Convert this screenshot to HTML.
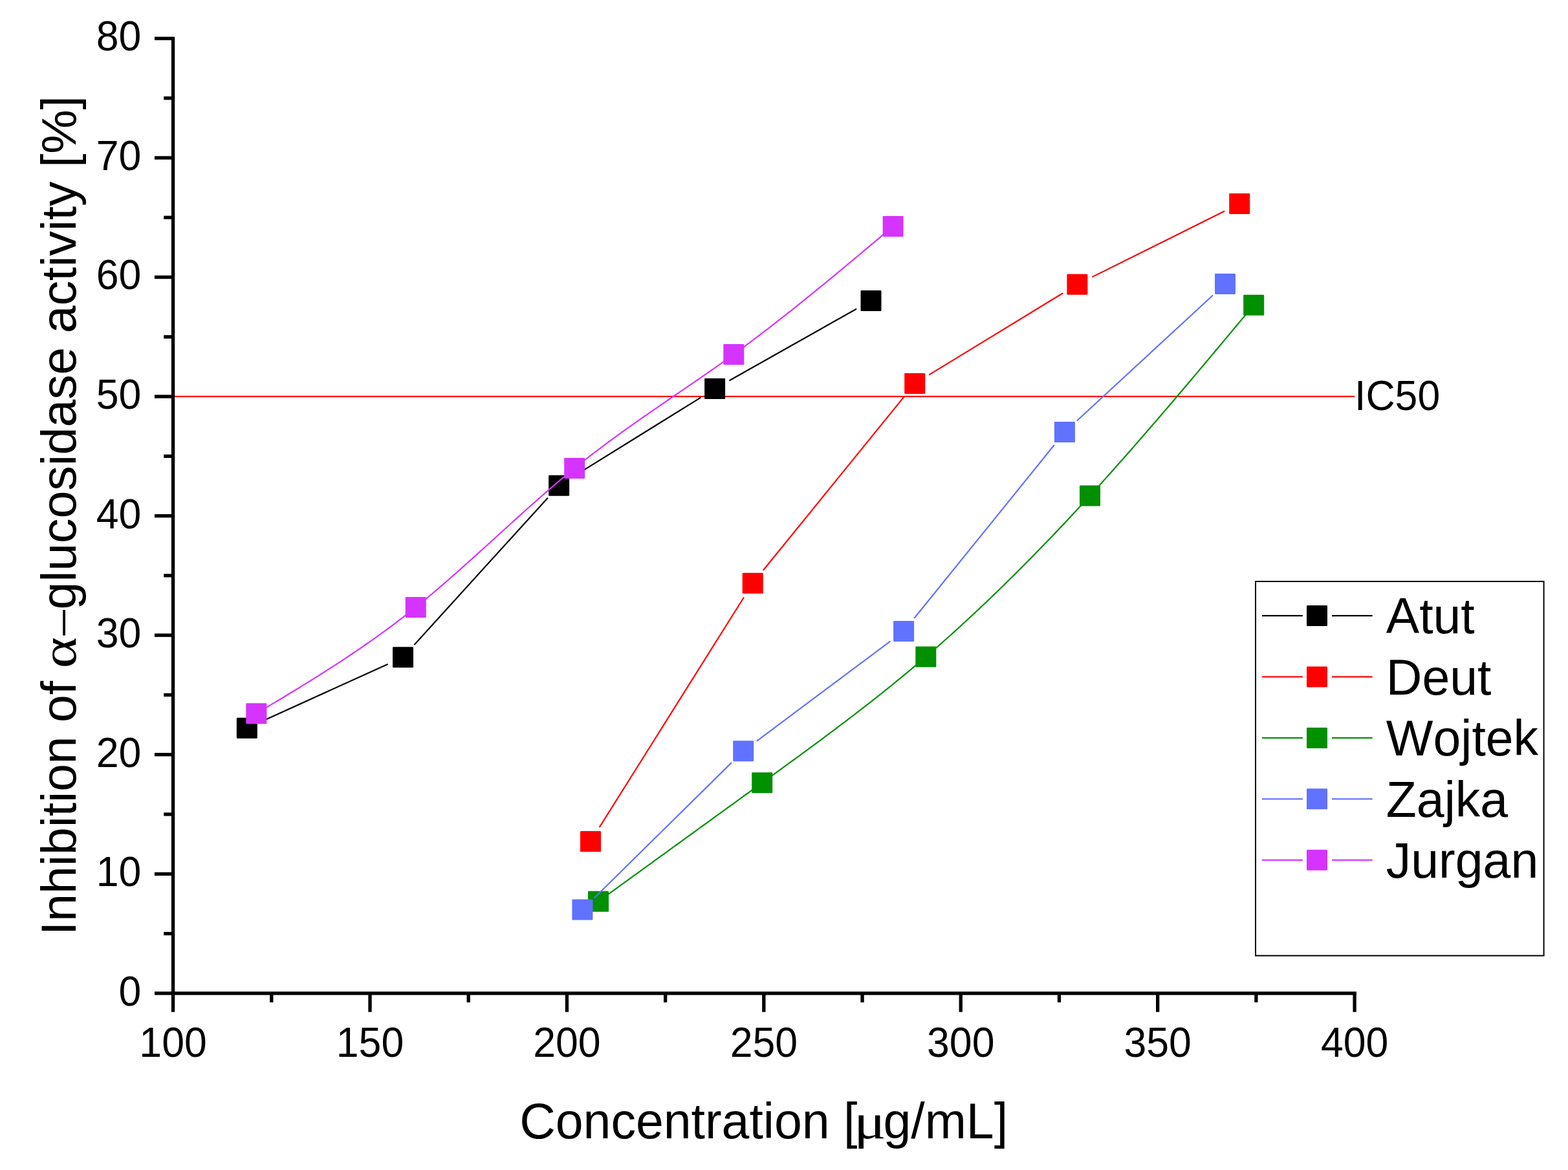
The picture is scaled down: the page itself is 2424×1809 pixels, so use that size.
<!DOCTYPE html>
<html><head><meta charset="utf-8"><title>Inhibition of alpha-glucosidase activity</title>
<style>html,body{margin:0;padding:0;background:#fff;}body{width:2424px;height:1809px;overflow:hidden;}svg{display:block;}</style>
</head><body>
<svg width="2424" height="1809" viewBox="0 0 2424 1809">
<rect x="0" y="0" width="2424" height="1809" fill="#fff"/>
<rect x="270" y="611.9" width="1824.2" height="2.2" fill="#ff0000"/>
<path d="M406.02 1114.7 L598.78 1027.2 M640.88 996.51 L846.22 770.39 M886.7 736.67 L1082.5 615.13 M1128.27 588.03 L1323.33 477.97" fill="none" stroke="#000000" stroke-width="2.2" stroke-linecap="round"/>
<rect x="365.8" y="1109.7" width="32" height="32" rx="1.2" fill="#000000"/>
<rect x="607" y="1000.2" width="32" height="32" rx="1.2" fill="#000000"/>
<rect x="848.1" y="734.7" width="32" height="32" rx="1.2" fill="#000000"/>
<rect x="1089.1" y="585.1" width="32" height="32" rx="1.2" fill="#000000"/>
<rect x="1330.5" y="448.9" width="32" height="32" rx="1.2" fill="#000000"/>
<path d="M927.15 1278.37 L1149.55 924.23 M1180.46 881.04 L1397.44 613.66 M1436.91 579.14 L1642.69 453.56 M1689.22 427.86 L1892.38 326.84" fill="none" stroke="#ff0000" stroke-width="2.2" stroke-linecap="round"/>
<rect x="897" y="1284.9" width="32" height="32" rx="1.2" fill="#ff0000"/>
<rect x="1147.7" y="885.7" width="32" height="32" rx="1.2" fill="#ff0000"/>
<rect x="1398.2" y="577" width="32" height="32" rx="1.2" fill="#ff0000"/>
<rect x="1649.4" y="423.7" width="32" height="32" rx="1.2" fill="#ff0000"/>
<rect x="1900.2" y="299" width="32" height="32" rx="1.2" fill="#ff0000"/>
<path d="M925 1393.8 L930.09 1390.11 L935.18 1386.42 L940.27 1382.73 L945.37 1379.04 L950.46 1375.36 L955.55 1371.67 L960.64 1367.98 L965.73 1364.29 L970.82 1360.6 L975.91 1356.91 L981.01 1353.22 L986.1 1349.53 L991.19 1345.84 L996.28 1342.15 L1001.37 1338.46 L1006.46 1334.78 L1011.55 1331.09 L1016.65 1327.4 L1021.74 1323.71 L1026.83 1320.02 L1031.92 1316.33 L1037.01 1312.64 L1042.1 1308.95 L1047.19 1305.26 L1052.29 1301.57 L1057.38 1297.88 L1062.47 1294.19 L1067.56 1290.5 L1072.65 1286.81 L1077.74 1283.12 L1082.84 1279.43 L1087.93 1275.74 L1093.02 1272.05 L1098.11 1268.36 L1103.2 1264.67 L1108.29 1260.98 L1113.38 1257.29 L1118.48 1253.6 L1123.57 1249.91 L1128.66 1246.22 L1133.75 1242.53 L1138.84 1238.84 L1143.93 1235.14 L1149.02 1231.45 L1154.12 1227.76 L1159.21 1224.07 L1164.3 1220.38 L1169.39 1216.69 L1174.48 1213 L1179.57 1209.3 L1184.66 1205.61 L1189.76 1201.92 L1194.85 1198.23 L1199.94 1194.53 L1205.03 1190.83 L1210.12 1187.13 L1215.21 1183.42 L1220.3 1179.72 L1225.4 1176 L1230.49 1172.28 L1235.58 1168.56 L1240.67 1164.83 L1245.76 1161.09 L1250.85 1157.34 L1255.94 1153.59 L1261.04 1149.83 L1266.13 1146.06 L1271.22 1142.28 L1276.31 1138.49 L1281.4 1134.69 L1286.49 1130.88 L1291.58 1127.06 L1296.68 1123.22 L1301.77 1119.37 L1306.86 1115.51 L1311.95 1111.63 L1317.04 1107.75 L1322.13 1103.84 L1327.23 1099.92 L1332.32 1095.98 L1337.41 1092.03 L1342.5 1088.06 L1347.59 1084.07 L1352.68 1080.07 L1357.77 1076.04 L1362.87 1072 L1367.96 1067.94 L1373.05 1063.85 L1378.14 1059.75 L1383.23 1055.62 L1388.32 1051.47 L1393.41 1047.3 L1398.51 1043.11 L1403.6 1038.89 L1408.69 1034.65 L1413.78 1030.38 L1418.87 1026.09 L1423.96 1021.77 L1429.05 1017.42 L1434.15 1013.05 L1439.24 1008.66 L1444.33 1004.23 L1449.42 999.78 L1454.51 995.3 L1459.6 990.79 L1464.69 986.26 L1469.79 981.7 L1474.88 977.12 L1479.97 972.51 L1485.06 967.87 L1490.15 963.21 L1495.24 958.52 L1500.33 953.81 L1505.43 949.07 L1510.52 944.3 L1515.61 939.51 L1520.7 934.7 L1525.79 929.85 L1530.88 924.99 L1535.97 920.1 L1541.07 915.18 L1546.16 910.24 L1551.25 905.28 L1556.34 900.29 L1561.43 895.28 L1566.52 890.24 L1571.62 885.18 L1576.71 880.09 L1581.8 874.99 L1586.89 869.85 L1591.98 864.7 L1597.07 859.52 L1602.16 854.32 L1607.26 849.09 L1612.35 843.84 L1617.44 838.57 L1622.53 833.28 L1627.62 827.96 L1632.71 822.62 L1637.8 817.26 L1642.9 811.87 L1647.99 806.46 L1653.08 801.03 L1658.17 795.58 L1663.26 790.11 L1668.35 784.62 L1673.44 779.1 L1678.54 773.56 L1683.63 768 L1688.72 762.42 L1693.81 756.82 L1698.9 751.2 L1703.99 745.56 L1709.08 739.89 L1714.18 734.21 L1719.27 728.51 L1724.36 722.8 L1729.45 717.06 L1734.54 711.31 L1739.63 705.54 L1744.72 699.75 L1749.82 693.94 L1754.91 688.13 L1760 682.29 L1765.09 676.44 L1770.18 670.58 L1775.27 664.7 L1780.36 658.81 L1785.46 652.9 L1790.55 646.98 L1795.64 641.05 L1800.73 635.11 L1805.82 629.16 L1810.91 623.19 L1816.01 617.21 L1821.1 611.23 L1826.19 605.23 L1831.28 599.23 L1836.37 593.21 L1841.46 587.19 L1846.55 581.16 L1851.65 575.12 L1856.74 569.07 L1861.83 563.02 L1866.92 556.96 L1872.01 550.9 L1877.1 544.83 L1882.19 538.75 L1887.29 532.67 L1892.38 526.59 L1897.47 520.5 L1902.56 514.4 L1907.65 508.31 L1912.74 502.21 L1917.83 496.11 L1922.93 490.01 L1928.02 483.91 L1933.11 477.8 L1938.2 471.7" fill="none" stroke="#009000" stroke-width="2.2" stroke-linejoin="round"/>
<rect x="909" y="1377.8" width="32" height="32" rx="1.2" fill="#009000"/>
<rect x="1162.2" y="1194.3" width="32" height="32" rx="1.2" fill="#009000"/>
<rect x="1415.3" y="999.5" width="32" height="32" rx="1.2" fill="#009000"/>
<rect x="1669" y="750.5" width="32" height="32" rx="1.2" fill="#009000"/>
<rect x="1922.2" y="455.7" width="32" height="32" rx="1.2" fill="#009000"/>
<path d="M919.35 1387.73 L1130.25 1179.87 M1170.51 1145.28 L1375.79 991.92 M1413.82 955.31 L1629.18 688.79 M1665.44 650.05 L1874.46 457.05" fill="none" stroke="#6172ff" stroke-width="2.2" stroke-linecap="round"/>
<rect x="884.4" y="1390.4" width="32" height="32" rx="1.2" fill="#6172ff"/>
<rect x="1133.2" y="1145.2" width="32" height="32" rx="1.2" fill="#6172ff"/>
<rect x="1381.1" y="960" width="32" height="32" rx="1.2" fill="#6172ff"/>
<rect x="1629.9" y="652.1" width="32" height="32" rx="1.2" fill="#6172ff"/>
<rect x="1878" y="423" width="32" height="32" rx="1.2" fill="#6172ff"/>
<path d="M396.3 1103.2 L401.25 1100.24 L406.19 1097.28 L411.14 1094.32 L416.08 1091.36 L421.03 1088.4 L425.98 1085.43 L430.92 1082.45 L435.87 1079.47 L440.82 1076.49 L445.76 1073.49 L450.71 1070.49 L455.65 1067.48 L460.6 1064.46 L465.55 1061.42 L470.49 1058.38 L475.44 1055.32 L480.39 1052.25 L485.33 1049.17 L490.28 1046.07 L495.22 1042.96 L500.17 1039.83 L505.12 1036.68 L510.06 1033.51 L515.01 1030.33 L519.96 1027.12 L524.9 1023.9 L529.85 1020.65 L534.79 1017.38 L539.74 1014.09 L544.69 1010.78 L549.63 1007.43 L554.58 1004.07 L559.53 1000.68 L564.47 997.26 L569.42 993.81 L574.36 990.33 L579.31 986.82 L584.26 983.29 L589.2 979.72 L594.15 976.12 L599.1 972.49 L604.04 968.82 L608.99 965.12 L613.93 961.38 L618.88 957.61 L623.83 953.8 L628.77 949.95 L633.72 946.06 L638.67 942.13 L643.61 938.17 L648.56 934.16 L653.5 930.11 L658.45 926.03 L663.4 921.91 L668.34 917.75 L673.29 913.56 L678.24 909.35 L683.18 905.1 L688.13 900.82 L693.07 896.52 L698.02 892.2 L702.97 887.85 L707.91 883.48 L712.86 879.09 L717.81 874.68 L722.75 870.26 L727.7 865.82 L732.64 861.37 L737.59 856.9 L742.54 852.43 L747.48 847.95 L752.43 843.46 L757.37 838.97 L762.32 834.48 L767.27 829.98 L772.21 825.48 L777.16 820.99 L782.11 816.5 L787.05 812.01 L792 807.53 L796.94 803.06 L801.89 798.59 L806.84 794.14 L811.78 789.7 L816.73 785.28 L821.68 780.87 L826.62 776.48 L831.57 772.11 L836.51 767.77 L841.46 763.44 L846.41 759.14 L851.35 754.86 L856.3 750.62 L861.25 746.4 L866.19 742.21 L871.14 738.06 L876.08 733.94 L881.03 729.85 L885.98 725.81 L890.92 721.8 L895.87 717.83 L900.82 713.9 L905.76 710.01 L910.71 706.15 L915.65 702.32 L920.6 698.53 L925.55 694.77 L930.49 691.04 L935.44 687.34 L940.39 683.67 L945.33 680.02 L950.28 676.4 L955.22 672.81 L960.17 669.23 L965.12 665.68 L970.06 662.15 L975.01 658.63 L979.96 655.14 L984.9 651.66 L989.85 648.19 L994.79 644.74 L999.74 641.31 L1004.69 637.88 L1009.63 634.46 L1014.58 631.06 L1019.53 627.66 L1024.47 624.26 L1029.42 620.87 L1034.36 617.49 L1039.31 614.11 L1044.26 610.73 L1049.2 607.34 L1054.15 603.96 L1059.09 600.58 L1064.04 597.19 L1068.99 593.79 L1073.93 590.39 L1078.88 586.99 L1083.83 583.57 L1088.77 580.14 L1093.72 576.7 L1098.66 573.25 L1103.61 569.79 L1108.56 566.31 L1113.5 562.81 L1118.45 559.3 L1123.4 555.76 L1128.34 552.21 L1133.29 548.63 L1138.23 545.04 L1143.18 541.42 L1148.13 537.77 L1153.07 534.11 L1158.02 530.42 L1162.97 526.71 L1167.91 522.99 L1172.86 519.24 L1177.8 515.47 L1182.75 511.69 L1187.7 507.88 L1192.64 504.06 L1197.59 500.22 L1202.54 496.36 L1207.48 492.49 L1212.43 488.6 L1217.37 484.69 L1222.32 480.77 L1227.27 476.84 L1232.21 472.89 L1237.16 468.92 L1242.11 464.95 L1247.05 460.96 L1252 456.95 L1256.94 452.94 L1261.89 448.91 L1266.84 444.87 L1271.78 440.82 L1276.73 436.77 L1281.68 432.7 L1286.62 428.62 L1291.57 424.53 L1296.51 420.44 L1301.46 416.34 L1306.41 412.23 L1311.35 408.11 L1316.3 403.99 L1321.25 399.86 L1326.19 395.72 L1331.14 391.58 L1336.08 387.44 L1341.03 383.29 L1345.98 379.13 L1350.92 374.98 L1355.87 370.82 L1360.82 366.66 L1365.76 362.5 L1370.71 358.33 L1375.65 354.17 L1380.6 350" fill="none" stroke="#d534ff" stroke-width="2.2" stroke-linejoin="round"/>
<rect x="380.3" y="1087.2" width="32" height="32" rx="1.2" fill="#d534ff"/>
<rect x="626.7" y="922.9" width="32" height="32" rx="1.2" fill="#d534ff"/>
<rect x="872.2" y="708" width="32" height="32" rx="1.2" fill="#d534ff"/>
<rect x="1118.3" y="531.9" width="32" height="32" rx="1.2" fill="#d534ff"/>
<rect x="1364.6" y="334" width="32" height="32" rx="1.2" fill="#d534ff"/>
<rect x="264.9" y="56.9" width="5.3" height="1507.8" fill="#000"/>
<rect x="238.9" y="1533.15" width="1858" height="5.3" fill="#000"/>
<rect x="238.9" y="1348.61" width="28.65" height="5.3" fill="#000"/>
<rect x="238.9" y="1164.07" width="28.65" height="5.3" fill="#000"/>
<rect x="238.9" y="979.53" width="28.65" height="5.3" fill="#000"/>
<rect x="238.9" y="794.99" width="28.65" height="5.3" fill="#000"/>
<rect x="238.9" y="610.45" width="28.65" height="5.3" fill="#000"/>
<rect x="238.9" y="425.91" width="28.65" height="5.3" fill="#000"/>
<rect x="238.9" y="241.37" width="28.65" height="5.3" fill="#000"/>
<rect x="238.9" y="56.83" width="28.65" height="5.3" fill="#000"/>
<rect x="253.2" y="1440.88" width="14.35" height="5.3" fill="#000"/>
<rect x="253.2" y="1256.34" width="14.35" height="5.3" fill="#000"/>
<rect x="253.2" y="1071.8" width="14.35" height="5.3" fill="#000"/>
<rect x="253.2" y="887.26" width="14.35" height="5.3" fill="#000"/>
<rect x="253.2" y="702.72" width="14.35" height="5.3" fill="#000"/>
<rect x="253.2" y="518.18" width="14.35" height="5.3" fill="#000"/>
<rect x="253.2" y="333.64" width="14.35" height="5.3" fill="#000"/>
<rect x="253.2" y="149.1" width="14.35" height="5.3" fill="#000"/>
<rect x="569.33" y="1535.8" width="5.3" height="28.9" fill="#000"/>
<rect x="873.75" y="1535.8" width="5.3" height="28.9" fill="#000"/>
<rect x="1178.17" y="1535.8" width="5.3" height="28.9" fill="#000"/>
<rect x="1482.6" y="1535.8" width="5.3" height="28.9" fill="#000"/>
<rect x="1787.02" y="1535.8" width="5.3" height="28.9" fill="#000"/>
<rect x="2091.45" y="1535.8" width="5.3" height="28.9" fill="#000"/>
<rect x="417.11" y="1535.8" width="5.3" height="14" fill="#000"/>
<rect x="721.54" y="1535.8" width="5.3" height="14" fill="#000"/>
<rect x="1025.96" y="1535.8" width="5.3" height="14" fill="#000"/>
<rect x="1330.39" y="1535.8" width="5.3" height="14" fill="#000"/>
<rect x="1634.81" y="1535.8" width="5.3" height="14" fill="#000"/>
<rect x="1939.24" y="1535.8" width="5.3" height="14" fill="#000"/>
<g font-family="'Liberation Sans', sans-serif" font-size="62.6" fill="#000" style="font-kerning:none">
<text transform="translate(218.25 1554.7) scale(1 1.035)" text-anchor="end">0</text>
<text transform="translate(218.25 1370.16) scale(1 1.035)" text-anchor="end">10</text>
<text transform="translate(218.25 1185.62) scale(1 1.035)" text-anchor="end">20</text>
<text transform="translate(218.25 1001.08) scale(1 1.035)" text-anchor="end">30</text>
<text transform="translate(218.25 816.54) scale(1 1.035)" text-anchor="end">40</text>
<text transform="translate(218.25 632) scale(1 1.035)" text-anchor="end">50</text>
<text transform="translate(218.25 447.46) scale(1 1.035)" text-anchor="end">60</text>
<text transform="translate(218.25 262.92) scale(1 1.035)" text-anchor="end">70</text>
<text transform="translate(218.25 78.38) scale(1 1.035)" text-anchor="end">80</text>
<text transform="translate(267.55 1634.2) scale(1 1.035)" text-anchor="middle">100</text>
<text transform="translate(571.98 1634.2) scale(1 1.035)" text-anchor="middle">150</text>
<text transform="translate(876.4 1634.2) scale(1 1.035)" text-anchor="middle">200</text>
<text transform="translate(1180.83 1634.2) scale(1 1.035)" text-anchor="middle">250</text>
<text transform="translate(1485.25 1634.2) scale(1 1.035)" text-anchor="middle">300</text>
<text transform="translate(1789.67 1634.2) scale(1 1.035)" text-anchor="middle">350</text>
<text transform="translate(2094.1 1634.2) scale(1 1.035)" text-anchor="middle">400</text>
<text transform="translate(2094 633.8) scale(1 1.035)">IC50</text>
</g>
<g font-family="'Liberation Sans', sans-serif" font-size="77" fill="#000" style="font-kerning:none">
<text y="1760.1"><tspan x="803.2">Concentration [</tspan><tspan x="1320.1" font-family="'Liberation Serif', serif" textLength="49.54" lengthAdjust="spacingAndGlyphs">&#956;</tspan><tspan x="1365.5">g/mL]</tspan></text>
<g transform="translate(117.1 1446) rotate(-90)">
<text y="0" font-size="76.85"><tspan x="0">Inhibition of </tspan><tspan x="412.7" font-family="'Liberation Serif', serif" textLength="48.32" lengthAdjust="spacingAndGlyphs">&#945;</tspan><tspan x="463.9" font-family="'Liberation Serif', serif">&#8211;</tspan><tspan x="503.5">glucosidase activity [%]</tspan></text>
</g>
</g>
<rect x="1941" y="899" width="445.6" height="578.6" fill="none" stroke="#000" stroke-width="2"/>
<rect x="1951" y="950.9" width="62.9" height="2.2" fill="#000000"/>
<rect x="2059" y="950.9" width="62.7" height="2.2" fill="#000000"/>
<rect x="2020" y="936" width="32" height="32" rx="1.2" fill="#000000"/>
<text x="2142.8" y="979.4" font-family="'Liberation Sans', sans-serif" font-size="77" fill="#000" style="font-kerning:none">Atut</text>
<rect x="1951" y="1045.35" width="62.9" height="2.2" fill="#ff0000"/>
<rect x="2059" y="1045.35" width="62.7" height="2.2" fill="#ff0000"/>
<rect x="2020" y="1030.45" width="32" height="32" rx="1.2" fill="#ff0000"/>
<text x="2142.8" y="1073.85" font-family="'Liberation Sans', sans-serif" font-size="77" fill="#000" style="font-kerning:none">Deut</text>
<rect x="1951" y="1139.8" width="62.9" height="2.2" fill="#009000"/>
<rect x="2059" y="1139.8" width="62.7" height="2.2" fill="#009000"/>
<rect x="2020" y="1124.9" width="32" height="32" rx="1.2" fill="#009000"/>
<text x="2142.8" y="1168.3" font-family="'Liberation Sans', sans-serif" font-size="77" fill="#000" style="font-kerning:none">Wojtek</text>
<rect x="1951" y="1234.25" width="62.9" height="2.2" fill="#6172ff"/>
<rect x="2059" y="1234.25" width="62.7" height="2.2" fill="#6172ff"/>
<rect x="2020" y="1219.35" width="32" height="32" rx="1.2" fill="#6172ff"/>
<text x="2142.8" y="1262.75" font-family="'Liberation Sans', sans-serif" font-size="77" fill="#000" style="font-kerning:none">Zajka</text>
<rect x="1951" y="1328.7" width="62.9" height="2.2" fill="#d534ff"/>
<rect x="2059" y="1328.7" width="62.7" height="2.2" fill="#d534ff"/>
<rect x="2020" y="1313.8" width="32" height="32" rx="1.2" fill="#d534ff"/>
<text x="2142.8" y="1357.2" font-family="'Liberation Sans', sans-serif" font-size="77" fill="#000" style="font-kerning:none">Jurgan</text>
</svg>
</body></html>
